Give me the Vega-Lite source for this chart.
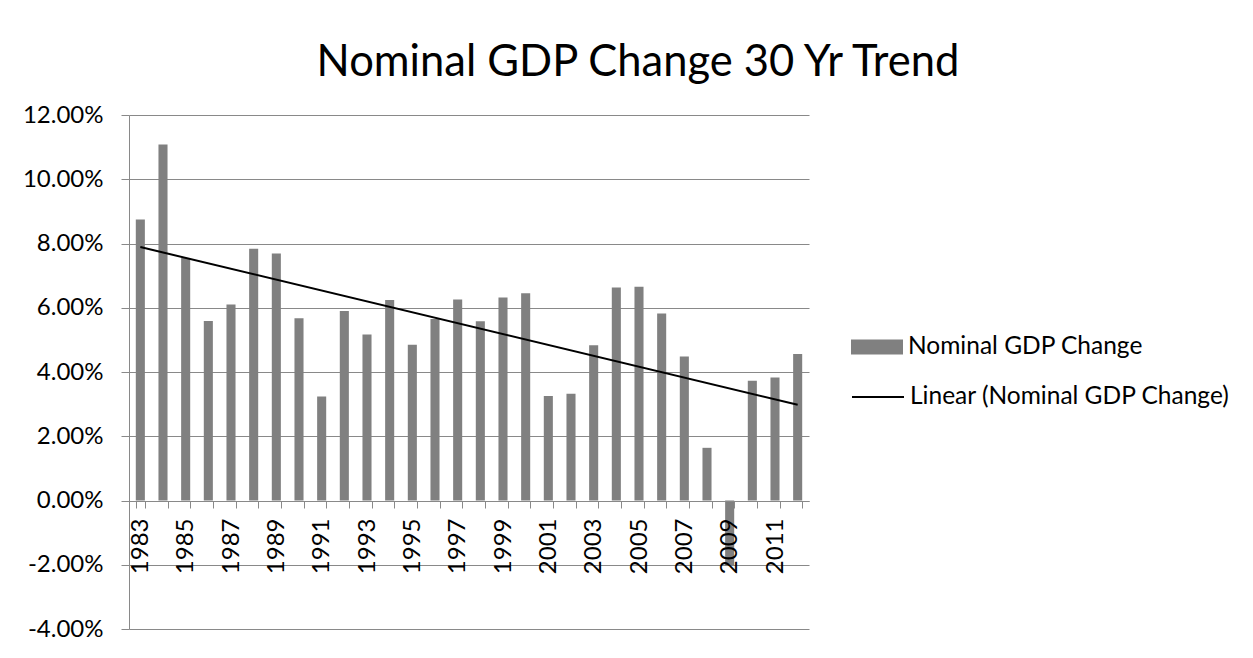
{
  "$schema": "https://vega.github.io/schema/vega-lite/v6.json",
  "width": 680,
  "height": 514,
  "autosize": {"type": "none"},
  "padding": {"left": 129, "top": 115, "right": 444, "bottom": 29},
  "background": "white",
  "config": {"view": {"stroke": null}, "font": "Lato"},
  "title": {
    "text": "Nominal GDP Change 30 Yr Trend",
    "font": "Lato",
    "fontSize": 43.5,
    "fontWeight": "normal",
    "color": "black",
    "anchor": "middle",
    "frame": "group",
    "dx": 169,
    "baseline": "alphabetic",
    "offset": -16
  },
  "datasets": {
    "gdp": [
      {"year": 1983, "value": 0.0875},
      {"year": 1984, "value": 0.1108},
      {"year": 1985, "value": 0.0755},
      {"year": 1986, "value": 0.0559},
      {"year": 1987, "value": 0.0610},
      {"year": 1988, "value": 0.0784},
      {"year": 1989, "value": 0.0769},
      {"year": 1990, "value": 0.0567},
      {"year": 1991, "value": 0.0324},
      {"year": 1992, "value": 0.0590},
      {"year": 1993, "value": 0.0517},
      {"year": 1994, "value": 0.0624},
      {"year": 1995, "value": 0.0485},
      {"year": 1996, "value": 0.0565},
      {"year": 1997, "value": 0.0626},
      {"year": 1998, "value": 0.0558},
      {"year": 1999, "value": 0.0632},
      {"year": 2000, "value": 0.0645},
      {"year": 2001, "value": 0.0325},
      {"year": 2002, "value": 0.0332},
      {"year": 2003, "value": 0.0483},
      {"year": 2004, "value": 0.0663},
      {"year": 2005, "value": 0.0665},
      {"year": 2006, "value": 0.0582},
      {"year": 2007, "value": 0.0448},
      {"year": 2008, "value": 0.0164},
      {"year": 2009, "value": -0.0204},
      {"year": 2010, "value": 0.0373},
      {"year": 2011, "value": 0.0383},
      {"year": 2012, "value": 0.0456}
    ],
    "trend": [
      {"year": 1983, "value": 0.0789},
      {"year": 2012, "value": 0.0298}
    ]
  },
  "layer": [
    {
      "data": {"name": "gdp"},
      "mark": {"type": "bar", "color": "#808080"},
      "encoding": {
        "x": {
          "field": "year",
          "type": "ordinal",
          "scale": {"paddingInner": 0.6, "paddingOuter": 0.3},
          "axis": {
            "title": null,
            "labelAngle": -90,
            "labelExpr": "datum.value % 2 == 1 ? datum.label : ''",
            "offset": -128,
            "tickBand": "extent",
            "tickSize": 7,
            "tickColor": "#898989",
            "domainColor": "#898989",
            "labelPadding": 10,
            "labelFont": "Lato",
            "labelFontSize": 24,
            "labelColor": "black",
            "zindex": 1
          }
        },
        "y": {
          "field": "value",
          "type": "quantitative",
          "scale": {"domain": [-0.04, 0.12], "nice": false, "zero": false},
          "axis": {
            "title": null,
            "values": [-0.04, -0.02, 0, 0.02, 0.04, 0.06, 0.08, 0.1, 0.12],
            "format": ".2%",
            "labelExpr": "replace(datum.label, '\u2212', '-')",
            "labelFont": "Lato",
            "labelFontSize": 24,
            "labelColor": "black",
            "labelPadding": 18,
            "tickSize": 8,
            "tickColor": "#898989",
            "domainColor": "#898989",
            "gridColor": "#898989",
            "gridOpacity": 1
          }
        },
        "fill": {
          "datum": "Nominal GDP Change",
          "type": "nominal",
          "scale": {"range": ["#808080"]},
          "legend": {
            "orient": "none",
            "legendX": 722,
            "legendY": 206,
            "title": null,
            "padding": 0,
            "symbolType": "M-1,-0.29H1V0.29H-1Z",
            "symbolSize": 2704,
            "symbolStrokeWidth": 0,
            "labelFont": "Lato",
            "labelFontSize": 24.5,
            "labelColor": "black",
            "labelOffset": 5,
            "labelLimit": 500
          }
        }
      }
    },
    {
      "data": {"name": "trend"},
      "mark": {"type": "line", "strokeWidth": 2},
      "encoding": {
        "x": {"field": "year", "type": "ordinal"},
        "y": {"field": "value", "type": "quantitative"},
        "stroke": {
          "datum": "Linear (Nominal GDP Change)",
          "type": "nominal",
          "scale": {"range": ["black"]},
          "legend": {
            "orient": "none",
            "legendX": 722,
            "legendY": 255,
            "title": null,
            "padding": 0,
            "symbolType": "stroke",
            "symbolSize": 2704,
            "symbolStrokeWidth": 2,
            "labelFont": "Lato",
            "labelFontSize": 24.5,
            "labelColor": "black",
            "labelOffset": 5,
            "labelLimit": 500
          }
        }
      }
    }
  ]
}
